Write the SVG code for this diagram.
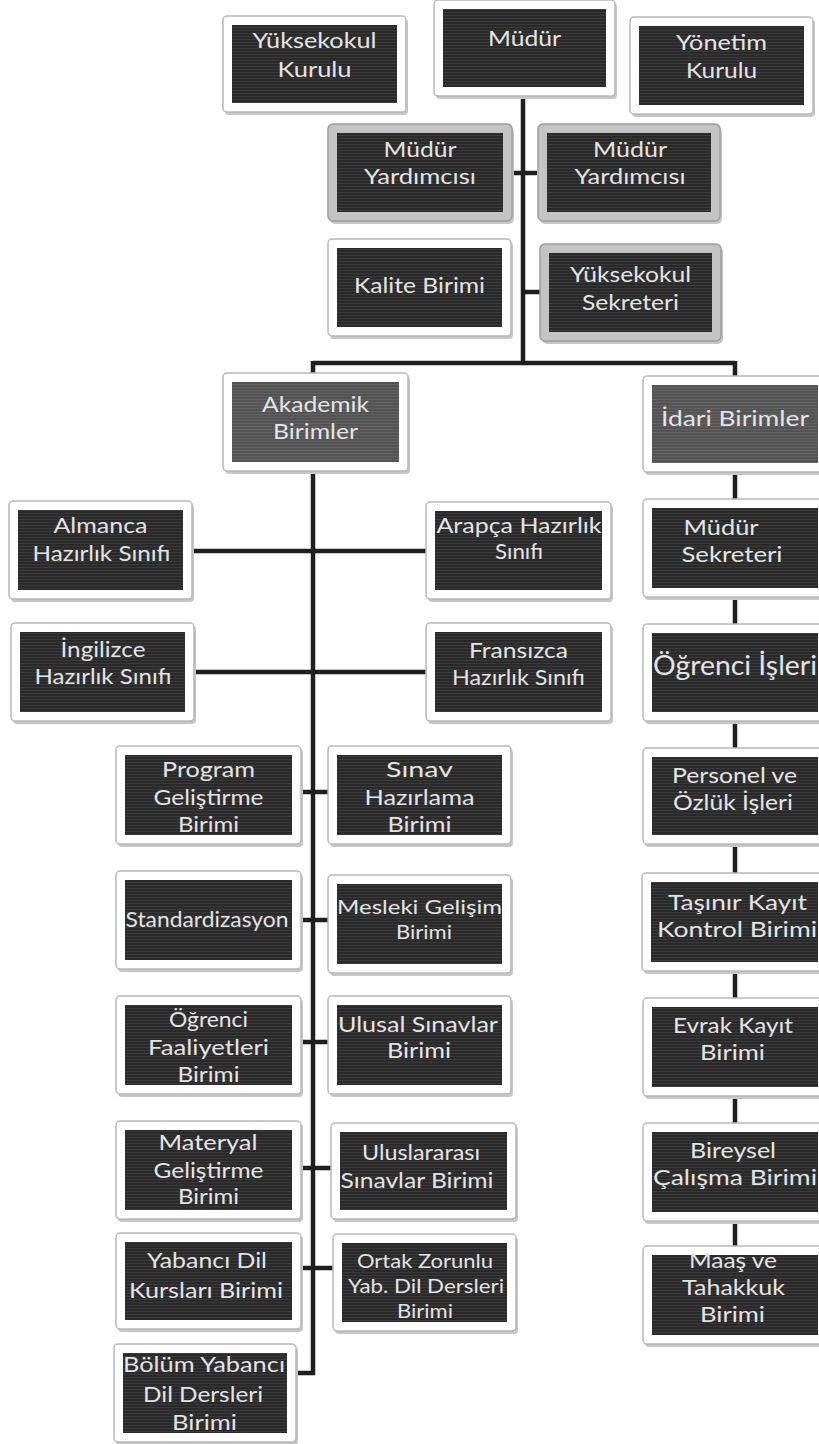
<svg xmlns="http://www.w3.org/2000/svg" width="819" height="1444" viewBox="0 0 819 1444">
<defs>
<pattern id="scan" width="6" height="3" patternUnits="userSpaceOnUse">
<rect width="6" height="3" fill="#2a2a2a"/>
<rect width="6" height="1" fill="#3a3a3a"/>
</pattern>
<pattern id="scang" width="6" height="3" patternUnits="userSpaceOnUse">
<rect width="6" height="3" fill="#545454"/>
<rect width="6" height="1" fill="#626262"/>
</pattern>
<style>
.sh{fill:#c6c6c6}
.fr{fill:#ffffff;stroke:#b8b8b8;stroke-width:1.5}
.fg{fill:#c4c4c4;stroke:#9c9c9c;stroke-width:1.5}
.in{fill:url(#scan)}
.ing{fill:url(#scang)}
.t{font-family:Lato,"Liberation Sans",sans-serif;font-size:22px;fill:#e4e4e4;text-anchor:middle}
.big{font-size:27px}
.sm{font-size:19px}
.c{fill:none;stroke:#1f1f1f;stroke-width:4.5}
</style>
</defs>
<rect width="819" height="1444" fill="#ffffff"/>
<g id="connectors">
<path class="c" d="M523 96 V363"/>
<path class="c" d="M511 173 H537"/>
<path class="c" d="M523 292 H541"/>
<path class="c" d="M313 363 H735"/>
<path class="c" d="M313 361 V374"/>
<path class="c" d="M735 361 V377"/>
<path class="c" d="M313 470 V1373 H296"/>
<path class="c" d="M191 551 H427"/>
<path class="c" d="M193 672 H427"/>
<path class="c" d="M300 792 H329"/>
<path class="c" d="M300 920 H329"/>
<path class="c" d="M300 1042 H329"/>
<path class="c" d="M300 1168 H332"/>
<path class="c" d="M300 1268 H334"/>
<path class="c" d="M735 470 V1248"/>
</g>

<g id="n-yuksekokul-kurulu"><rect class="sh" x="225" y="19" width="183" height="96" rx="4"/><rect class="fr" x="223" y="16" width="183" height="96" rx="4"/><rect class="in" x="232" y="25" width="165" height="78"/>
<text class="t" x="314.5" y="48" textLength="124" lengthAdjust="spacingAndGlyphs">Yüksekokul</text><text class="t" x="314.5" y="77" textLength="74" lengthAdjust="spacingAndGlyphs">Kurulu</text></g>

<g id="n-mudur"><rect class="sh" x="436" y="3" width="181" height="96" rx="4"/><rect class="fr" x="434" y="0" width="181" height="96" rx="4"/><rect class="in" x="443" y="9" width="163" height="78"/>
<text class="t" x="524.5" y="46" textLength="73" lengthAdjust="spacingAndGlyphs">Müdür</text></g>

<g id="n-yonetim-kurulu"><rect class="sh" x="632" y="20" width="183" height="97" rx="4"/><rect class="fr" x="630" y="17" width="183" height="97" rx="4"/><rect class="in" x="639" y="26" width="165" height="79"/>
<text class="t" x="721.5" y="50" textLength="91" lengthAdjust="spacingAndGlyphs">Yönetim</text><text class="t" x="721.5" y="78" textLength="71" lengthAdjust="spacingAndGlyphs">Kurulu</text></g>

<g id="n-mudur-yardimcisi-1"><rect class="sh" x="330" y="127" width="184" height="97" rx="5"/><rect class="fg" x="328" y="124" width="184" height="97" rx="5"/><rect class="in" x="337" y="133" width="166" height="79"/>
<text class="t" x="420" y="157" textLength="73" lengthAdjust="spacingAndGlyphs">Müdür</text><text class="t" x="420" y="184" textLength="112" lengthAdjust="spacingAndGlyphs">Yardımcısı</text></g>

<g id="n-mudur-yardimcisi-2"><rect class="sh" x="540" y="127" width="182" height="97" rx="5"/><rect class="fg" x="538" y="124" width="182" height="97" rx="5"/><rect class="in" x="547" y="133" width="164" height="79"/>
<text class="t" x="630" y="157" textLength="74" lengthAdjust="spacingAndGlyphs">Müdür</text><text class="t" x="630" y="184" textLength="111" lengthAdjust="spacingAndGlyphs">Yardımcısı</text></g>

<g id="n-kalite-birimi"><rect class="sh" x="330" y="242" width="183" height="97" rx="4"/><rect class="fr" x="328" y="239" width="183" height="97" rx="4"/><rect class="in" x="337" y="248" width="165" height="79"/>
<text class="t" x="419.5" y="293" textLength="131" lengthAdjust="spacingAndGlyphs">Kalite Birimi</text></g>

<g id="n-yuksekokul-sekreteri"><rect class="sh" x="542" y="247" width="181" height="97" rx="5"/><rect class="fg" x="540" y="244" width="181" height="97" rx="5"/><rect class="in" x="549" y="253" width="163" height="79"/>
<text class="t" x="630.5" y="282" textLength="121" lengthAdjust="spacingAndGlyphs">Yüksekokul</text><text class="t" x="630.5" y="310" textLength="97" lengthAdjust="spacingAndGlyphs">Sekreteri</text></g>

<g id="n-akademik-birimler"><rect class="sh" x="225" y="376" width="185" height="98" rx="4"/><rect class="fr" x="223" y="373" width="185" height="98" rx="4"/><rect class="ing" x="232" y="382" width="167" height="80"/>
<text class="t" x="315.5" y="412" textLength="107" lengthAdjust="spacingAndGlyphs">Akademik</text><text class="t" x="315.5" y="439" textLength="85" lengthAdjust="spacingAndGlyphs">Birimler</text></g>

<g id="n-idari-birimler"><rect class="sh" x="645" y="379" width="184" height="96" rx="4"/><rect class="fr" x="643" y="376" width="184" height="96" rx="4"/><rect class="ing" x="652" y="385" width="166" height="78"/>
<text class="t" x="735" y="426" textLength="148" lengthAdjust="spacingAndGlyphs">İdari Birimler</text></g>

<g id="n-almanca"><rect class="sh" x="11" y="504" width="183" height="98" rx="4"/><rect class="fr" x="9" y="501" width="183" height="98" rx="4"/><rect class="in" x="18" y="510" width="165" height="80"/>
<text class="t" x="100.5" y="533" textLength="94" lengthAdjust="spacingAndGlyphs">Almanca</text><text class="t" x="101.5" y="561" textLength="138" lengthAdjust="spacingAndGlyphs">Hazırlık Sınıfı</text></g>

<g id="n-arapca"><rect class="sh" x="428" y="505" width="185" height="97" rx="4"/><rect class="fr" x="426" y="502" width="185" height="97" rx="4"/><rect class="in" x="435" y="511" width="167" height="79"/>
<text class="t" x="519" y="533" textLength="165" lengthAdjust="spacingAndGlyphs">Arapça Hazırlık</text><text class="t" x="519" y="559" textLength="48" lengthAdjust="spacingAndGlyphs">Sınıfı</text></g>

<g id="n-ingilizce"><rect class="sh" x="13" y="626" width="183" height="98" rx="4"/><rect class="fr" x="11" y="623" width="183" height="98" rx="4"/><rect class="in" x="20" y="632" width="165" height="80"/>
<text class="t" x="103" y="657" textLength="85" lengthAdjust="spacingAndGlyphs">İngilizce</text><text class="t" x="103" y="684" textLength="137" lengthAdjust="spacingAndGlyphs">Hazırlık Sınıfı</text></g>

<g id="n-fransizca"><rect class="sh" x="428" y="626" width="185" height="98" rx="4"/><rect class="fr" x="426" y="623" width="185" height="98" rx="4"/><rect class="in" x="435" y="632" width="167" height="80"/>
<text class="t" x="518.5" y="658" textLength="99" lengthAdjust="spacingAndGlyphs">Fransızca</text><text class="t" x="518.5" y="685" textLength="133" lengthAdjust="spacingAndGlyphs">Hazırlık Sınıfı</text></g>

<g id="n-program-gelistirme"><rect class="sh" x="118" y="749" width="185" height="98" rx="4"/><rect class="fr" x="116" y="746" width="185" height="98" rx="4"/><rect class="in" x="125" y="755" width="167" height="80"/>
<text class="t" x="208.5" y="777" textLength="93" lengthAdjust="spacingAndGlyphs">Program</text><text class="t" x="208.5" y="805" textLength="110" lengthAdjust="spacingAndGlyphs">Geliştirme</text><text class="t" x="208.5" y="832" textLength="61" lengthAdjust="spacingAndGlyphs">Birimi</text></g>

<g id="n-sinav-hazirlama"><rect class="sh" x="330" y="749" width="183" height="98" rx="4"/><rect class="fr" x="328" y="746" width="183" height="98" rx="4"/><rect class="in" x="337" y="755" width="165" height="80"/>
<text class="t" x="419.5" y="777" textLength="67" lengthAdjust="spacingAndGlyphs">Sınav</text><text class="t" x="419.5" y="805" textLength="110" lengthAdjust="spacingAndGlyphs">Hazırlama</text><text class="t" x="419.5" y="832" textLength="64" lengthAdjust="spacingAndGlyphs">Birimi</text></g>

<g id="n-standardizasyon"><rect class="sh" x="118" y="874" width="185" height="98" rx="4"/><rect class="fr" x="116" y="871" width="185" height="98" rx="4"/><rect class="in" x="125" y="880" width="167" height="80"/>
<text class="t" x="207" y="927" textLength="163" lengthAdjust="spacingAndGlyphs">Standardizasyon</text></g>

<g id="n-mesleki-gelisim"><rect class="sh" x="330" y="878" width="183" height="98" rx="4"/><rect class="fr" x="328" y="875" width="183" height="98" rx="4"/><rect class="in" x="337" y="884" width="165" height="80"/>
<text class="t sm" x="419.5" y="914" textLength="165" lengthAdjust="spacingAndGlyphs">Mesleki Gelişim</text><text class="t sm" x="424" y="939" textLength="56" lengthAdjust="spacingAndGlyphs">Birimi</text></g>

<g id="n-ogrenci-faaliyetleri"><rect class="sh" x="118" y="999" width="185" height="98" rx="4"/><rect class="fr" x="116" y="996" width="185" height="98" rx="4"/><rect class="in" x="125" y="1005" width="167" height="80"/>
<text class="t" x="208.5" y="1027" textLength="79" lengthAdjust="spacingAndGlyphs">Öğrenci</text><text class="t" x="208.5" y="1055" textLength="121" lengthAdjust="spacingAndGlyphs">Faaliyetleri</text><text class="t" x="208.5" y="1082" textLength="62" lengthAdjust="spacingAndGlyphs">Birimi</text></g>

<g id="n-ulusal-sinavlar"><rect class="sh" x="330" y="999" width="183" height="98" rx="4"/><rect class="fr" x="328" y="996" width="183" height="98" rx="4"/><rect class="in" x="337" y="1005" width="165" height="80"/>
<text class="t" x="418" y="1032" textLength="160" lengthAdjust="spacingAndGlyphs">Ulusal Sınavlar</text><text class="t" x="419" y="1058" textLength="64" lengthAdjust="spacingAndGlyphs">Birimi</text></g>

<g id="n-materyal-gelistirme"><rect class="sh" x="118" y="1124" width="185" height="98" rx="4"/><rect class="fr" x="116" y="1121" width="185" height="98" rx="4"/><rect class="in" x="125" y="1130" width="167" height="80"/>
<text class="t" x="208" y="1150" textLength="99" lengthAdjust="spacingAndGlyphs">Materyal</text><text class="t" x="208.5" y="1178" textLength="110" lengthAdjust="spacingAndGlyphs">Geliştirme</text><text class="t" x="208.5" y="1204" textLength="61" lengthAdjust="spacingAndGlyphs">Birimi</text></g>

<g id="n-uluslararasi-sinavlar"><rect class="sh" x="333" y="1126" width="185" height="96" rx="4"/><rect class="fr" x="331" y="1123" width="185" height="96" rx="4"/><rect class="in" x="340" y="1132" width="167" height="78"/>
<text class="t" x="421" y="1160" textLength="118" lengthAdjust="spacingAndGlyphs">Uluslararası</text><text class="t" x="417" y="1188" textLength="153" lengthAdjust="spacingAndGlyphs">Sınavlar Birimi</text></g>

<g id="n-yabanci-dil-kurslari"><rect class="sh" x="118" y="1236" width="185" height="96" rx="4"/><rect class="fr" x="116" y="1233" width="185" height="96" rx="4"/><rect class="in" x="125" y="1242" width="167" height="78"/>
<text class="t" x="207" y="1268" textLength="120" lengthAdjust="spacingAndGlyphs">Yabancı Dil</text><text class="t" x="206" y="1298" textLength="154" lengthAdjust="spacingAndGlyphs">Kursları Birimi</text></g>

<g id="n-ortak-zorunlu"><rect class="sh" x="335" y="1237" width="183" height="97" rx="4"/><rect class="fr" x="333" y="1234" width="183" height="97" rx="4"/><rect class="in" x="342" y="1243" width="165" height="79"/>
<text class="t sm" x="425" y="1268" textLength="136" lengthAdjust="spacingAndGlyphs">Ortak Zorunlu</text><text class="t sm" x="426" y="1293" textLength="156" lengthAdjust="spacingAndGlyphs">Yab. Dil Dersleri</text><text class="t sm" x="425" y="1318" textLength="56" lengthAdjust="spacingAndGlyphs">Birimi</text></g>

<g id="n-bolum-yabanci-dil"><rect class="sh" x="116" y="1347" width="182" height="98" rx="4"/><rect class="fr" x="114" y="1344" width="182" height="98" rx="4"/><rect class="in" x="123" y="1353" width="164" height="80"/>
<text class="t" x="204" y="1372" textLength="162" lengthAdjust="spacingAndGlyphs">Bölüm Yabancı</text><text class="t" x="203" y="1402" textLength="120" lengthAdjust="spacingAndGlyphs">Dil Dersleri</text><text class="t" x="204.5" y="1430" textLength="65" lengthAdjust="spacingAndGlyphs">Birimi</text></g>

<g id="n-mudur-sekreteri"><rect class="sh" x="645" y="502" width="184" height="98" rx="4"/><rect class="fr" x="643" y="499" width="184" height="98" rx="4"/><rect class="in" x="652" y="508" width="166" height="80"/>
<text class="t" x="721" y="535" textLength="75" lengthAdjust="spacingAndGlyphs">Müdür</text><text class="t" x="732" y="562" textLength="101" lengthAdjust="spacingAndGlyphs">Sekreteri</text></g>

<g id="n-ogrenci-isleri"><rect class="sh" x="645" y="627" width="184" height="97" rx="4"/><rect class="fr" x="643" y="624" width="184" height="97" rx="4"/><rect class="in" x="652" y="633" width="166" height="79"/>
<text class="t big" x="735" y="675" textLength="164" lengthAdjust="spacingAndGlyphs">Öğrenci İşleri</text></g>

<g id="n-personel-ozluk"><rect class="sh" x="645" y="751" width="184" height="96" rx="4"/><rect class="fr" x="643" y="748" width="184" height="96" rx="4"/><rect class="in" x="652" y="757" width="166" height="78"/>
<text class="t" x="734.5" y="783" textLength="125" lengthAdjust="spacingAndGlyphs">Personel ve</text><text class="t" x="733" y="810" textLength="120" lengthAdjust="spacingAndGlyphs">Özlük İşleri</text></g>

<g id="n-tasinir-kayit"><rect class="sh" x="644" y="876" width="185" height="98" rx="4"/><rect class="fr" x="642" y="873" width="185" height="98" rx="4"/><rect class="in" x="651" y="882" width="167" height="80"/>
<text class="t" x="737.5" y="910" textLength="139" lengthAdjust="spacingAndGlyphs">Taşınır Kayıt</text><text class="t" x="737" y="937" textLength="160" lengthAdjust="spacingAndGlyphs">Kontrol Birimi</text></g>

<g id="n-evrak-kayit"><rect class="sh" x="645" y="1001" width="184" height="98" rx="4"/><rect class="fr" x="643" y="998" width="184" height="98" rx="4"/><rect class="in" x="652" y="1007" width="166" height="80"/>
<text class="t" x="733" y="1033" textLength="120" lengthAdjust="spacingAndGlyphs">Evrak Kayıt</text><text class="t" x="732.5" y="1060" textLength="65" lengthAdjust="spacingAndGlyphs">Birimi</text></g>

<g id="n-bireysel-calisma"><rect class="sh" x="645" y="1126" width="184" height="98" rx="4"/><rect class="fr" x="643" y="1123" width="184" height="98" rx="4"/><rect class="in" x="652" y="1132" width="166" height="80"/>
<text class="t" x="733" y="1158" textLength="86" lengthAdjust="spacingAndGlyphs">Bireysel</text><text class="t" x="735" y="1185" textLength="164" lengthAdjust="spacingAndGlyphs">Çalışma Birimi</text></g>

<g id="n-maas-tahakkuk"><rect class="sh" x="645" y="1249" width="184" height="98" rx="4"/><rect class="fr" x="643" y="1246" width="184" height="98" rx="4"/><rect class="in" x="652" y="1255" width="166" height="80"/>
<text class="t" x="733" y="1268" textLength="88" lengthAdjust="spacingAndGlyphs">Maaş ve</text><text class="t" x="733.5" y="1295" textLength="103" lengthAdjust="spacingAndGlyphs">Tahakkuk</text><text class="t" x="732.5" y="1322" textLength="65" lengthAdjust="spacingAndGlyphs">Birimi</text></g>
</svg>
